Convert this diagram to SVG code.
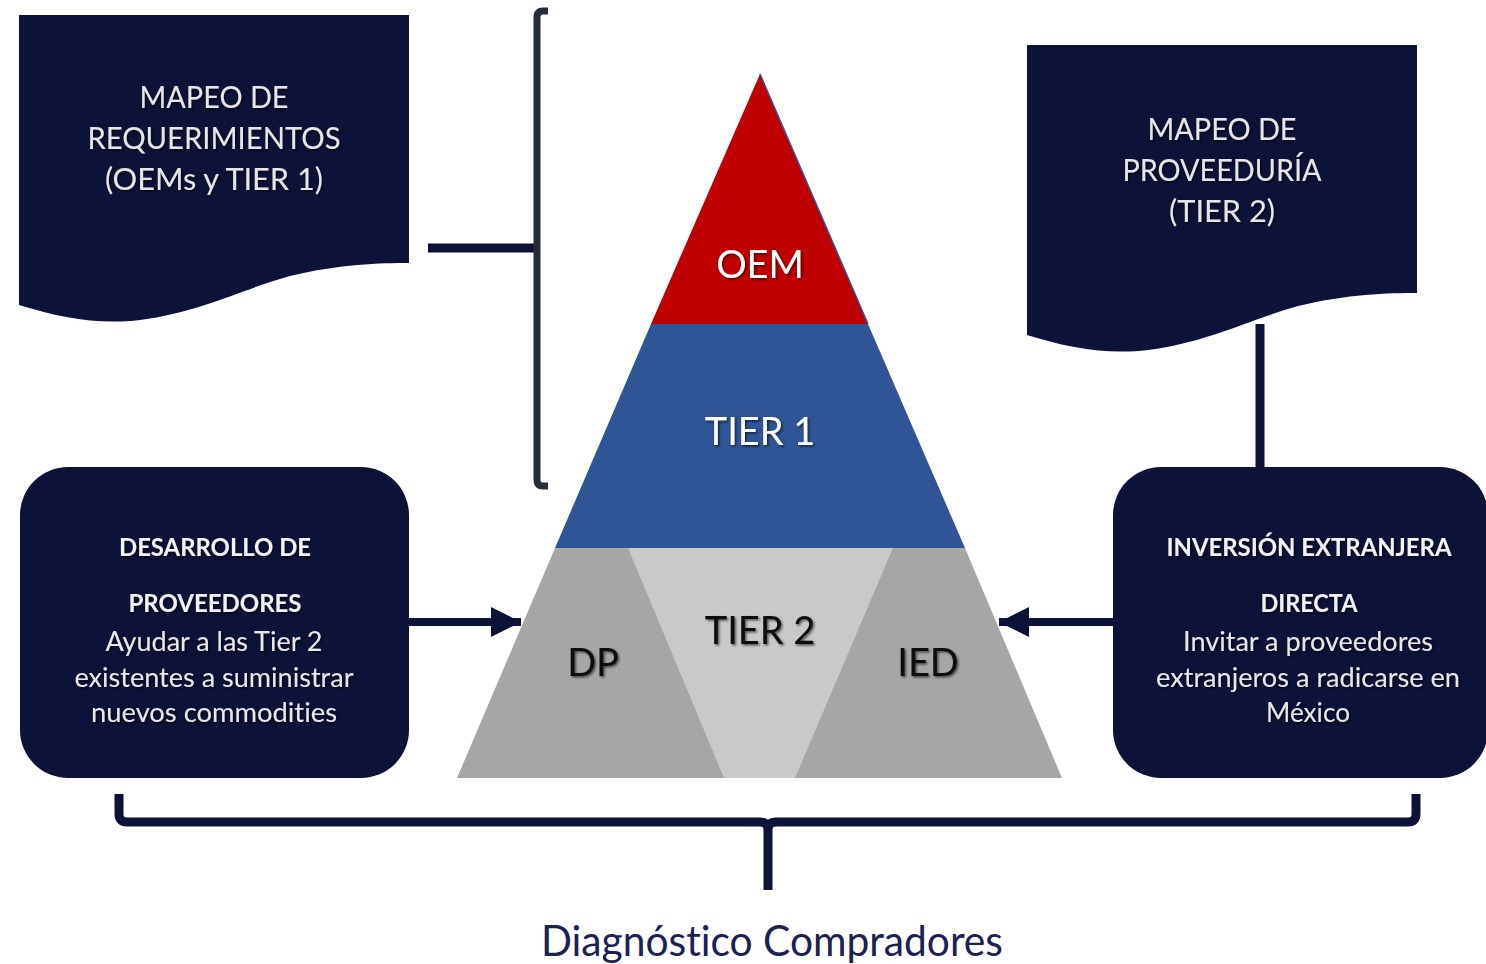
<svg xmlns="http://www.w3.org/2000/svg" width="1486" height="964" viewBox="0 0 1486 964">
<style>
text{font-variant-ligatures:none}
.navy{fill:#0D1238}
.doc{font-family:Lato,"Open Sans","Liberation Sans",sans-serif;font-size:31px;fill:#E6E6E6;text-anchor:middle}
.bt{font-family:Lato,"Open Sans","Liberation Sans",sans-serif;font-size:25px;font-weight:bold;fill:#F2F2F2;text-anchor:middle}
.bn{font-family:Lato,"Open Sans","Liberation Sans",sans-serif;font-size:27px;fill:#E8E8E8;text-anchor:middle}
.pl{font-family:Lato,"Open Sans","Liberation Sans",sans-serif;font-size:38px;text-anchor:middle}
.conn{stroke:#0D1238;fill:none}
</style>
<defs>
<filter id="sh" x="-10%" y="-10%" width="130%" height="140%">
<feDropShadow dx="1.5" dy="1.5" stdDeviation="1" flood-color="#000" flood-opacity="0.6"/>
</filter>
<marker id="ah" markerUnits="userSpaceOnUse" markerWidth="32" markerHeight="32" refX="30" refY="16" orient="auto">
<path d="M0,1 L30,16 L0,31 Z" fill="#0D1238"/>
</marker>
</defs>
<rect width="1486" height="964" fill="#FFFFFF"/>

<g id="connectors">
<line class="conn" x1="428" y1="248" x2="536" y2="248" stroke-width="9"/>
<path d="M548,11 H543 Q537,11 537,17 V480 Q537,486 543,486 H548" fill="none" stroke="#252D3A" stroke-width="7"/>
<line class="conn" x1="1260" y1="324" x2="1260" y2="468" stroke-width="9"/>
<line class="conn" x1="408" y1="622" x2="521" y2="622" stroke-width="8" marker-end="url(#ah)"/>
<line class="conn" x1="1113" y1="622" x2="999" y2="622" stroke-width="8" marker-end="url(#ah)"/>
<path d="M119,794 V814 Q119,822 127,822 H760 Q768,822 768,830 V890 M768,830 Q768,822 776,822 H1408 Q1416,822 1416,814 V794" class="conn" stroke-width="9"/>
</g>

<g id="doc-left">
<path class="navy" d="M19,15 H409 V263 C380,263 340,264 290,276 C240,290 200,312 140,320 C100,325 60,318 19,305 Z"/>
<g filter="url(#sh)">
<text class="doc" x="214" y="108" textLength="149" lengthAdjust="spacingAndGlyphs">MAPEO DE</text>
<text class="doc" x="214" y="149" textLength="253" lengthAdjust="spacingAndGlyphs">REQUERIMIENTOS</text>
<text class="doc" x="214" y="190" textLength="218" lengthAdjust="spacingAndGlyphs">(OEMs y TIER 1)</text>
</g>
</g>

<g id="doc-right">
<path class="navy" d="M1027,45 H1417 V293 C1388,293 1348,294 1298,306 C1248,320 1208,342 1148,350 C1108,355 1068,348 1027,335 Z"/>
<g filter="url(#sh)">
<text class="doc" x="1222" y="140" textLength="149" lengthAdjust="spacingAndGlyphs">MAPEO DE</text>
<text class="doc" x="1222" y="181" textLength="199" lengthAdjust="spacingAndGlyphs">PROVEEDURÍA</text>
<text class="doc" x="1222" y="222" textLength="106" lengthAdjust="spacingAndGlyphs">(TIER 2)</text>
</g>
</g>

<g id="pyramid">
<polygon points="555,548 965,548 1062,778 457,778" fill="#A6A6A6"/>
<polygon points="628,548 893,548 795,778 724,778" fill="#C9C9C9"/>
<polygon points="651,324 868,324 965,548 555,548" fill="#2F5597"/>
<polygon points="760,74 868,324 651,324" fill="#C00000"/>
<line x1="760" y1="74" x2="868" y2="324" stroke="#2F5597" stroke-width="1.5"/>
<g filter="url(#sh)">
<text class="pl" x="760" y="278" fill="#FFFFFF" font-size="36">OEM</text>
<text class="pl" x="760" y="445" fill="#FFFFFF">TIER 1</text>
</g>
<g filter="url(#sh)">
<text class="pl" x="760" y="644" fill="#111111">TIER 2</text>
<text class="pl" x="593" y="676" fill="#111111" font-size="36">DP</text>
<text class="pl" x="928" y="676" fill="#111111" font-size="36">IED</text>
</g>
</g>

<g id="box-left">
<rect class="navy" x="20" y="467" width="389" height="311" rx="48"/>
<g filter="url(#sh)">
<text class="bt" x="215" y="556" textLength="192" lengthAdjust="spacingAndGlyphs">DESARROLLO DE</text>
<text class="bt" x="215" y="612" textLength="173" lengthAdjust="spacingAndGlyphs">PROVEEDORES</text>
<text class="bn" x="214" y="651" textLength="217" lengthAdjust="spacingAndGlyphs">Ayudar a las Tier 2</text>
<text class="bn" x="214" y="687" textLength="279" lengthAdjust="spacingAndGlyphs">existentes a suministrar</text>
<text class="bn" x="214" y="722" textLength="246" lengthAdjust="spacingAndGlyphs">nuevos commodities</text>
</g>
</g>

<g id="box-right">
<rect class="navy" x="1113" y="467" width="375" height="311" rx="48"/>
<g filter="url(#sh)">
<text class="bt" x="1309" y="556" textLength="285" lengthAdjust="spacingAndGlyphs">INVERSIÓN EXTRANJERA</text>
<text class="bt" x="1309" y="612" textLength="97" lengthAdjust="spacingAndGlyphs">DIRECTA</text>
<text class="bn" x="1308" y="651" textLength="250" lengthAdjust="spacingAndGlyphs">Invitar a proveedores</text>
<text class="bn" x="1308" y="687" textLength="304" lengthAdjust="spacingAndGlyphs">extranjeros a radicarse en</text>
<text class="bn" x="1308" y="722" textLength="84" lengthAdjust="spacingAndGlyphs">México</text>
</g>
</g>

<g id="label-bottom">
<text x="772" y="956" font-family="Lato,'Open Sans','Liberation Sans',sans-serif" font-size="42" fill="#1B2150" text-anchor="middle" textLength="462" lengthAdjust="spacingAndGlyphs">Diagnóstico Compradores</text>
</g>
</svg>
